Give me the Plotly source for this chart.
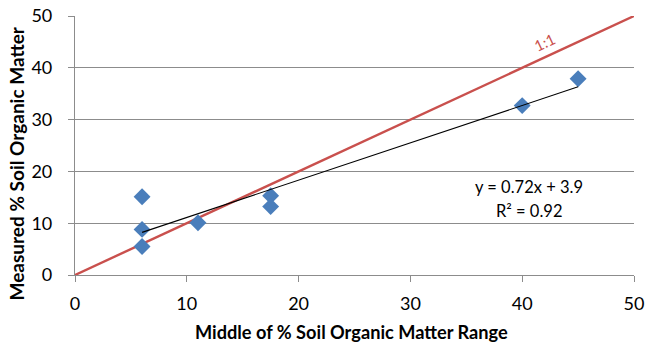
import numpy as np
import plotly.graph_objects as go

x_mid = [6, 6, 6, 11, 17.5, 17.5, 40, 45]
y_meas = [15.1, 8.8, 5.5, 10.1, 15.3, 13.2, 32.7, 37.9]
one_to_one = [0, 50]
x_ticks = [0, 10, 20, 30, 40, 50]
y_ticks = [0, 10, 20, 30, 40, 50]

slope, intercept = np.polyfit(x_mid, y_meas, 1)
trend_x = [min(x_mid), max(x_mid)]
trend_y = [slope * v + intercept for v in trend_x]
r2 = np.corrcoef(x_mid, y_meas)[0, 1] ** 2

font = "Lato, Open Sans, sans-serif"
grid = "#8c8c8c"
red = "#C9504D"

fig = go.Figure()
fig.add_trace(go.Scatter(x=one_to_one, y=one_to_one, mode="lines",
                         line=dict(color=red, width=2.4), hoverinfo="skip"))
fig.add_trace(go.Scatter(x=x_mid, y=y_meas, mode="markers",
                         marker=dict(symbol="diamond", size=13, color="#4A7EBB")))
fig.add_trace(go.Scatter(x=trend_x, y=trend_y, mode="lines",
                         line=dict(color="black", width=1.1)))

fig.add_annotation(x=42.0, y=45.0, text="1:1", showarrow=False, textangle=-25,
                   xanchor="center", yanchor="middle",
                   font=dict(family=font, size=15, color=red))
fig.add_annotation(x=40.6, y=17.05, text=f"y = {slope:.2f}x + {intercept:.1f}",
                   showarrow=False, xanchor="center", yanchor="middle",
                   font=dict(family=font, size=16.5, color="black"))
fig.add_annotation(x=40.6, y=12.4, text=f"R² = {r2:.2f}",
                   showarrow=False, xanchor="center", yanchor="middle",
                   font=dict(family=font, size=16.5, color="black"))

# axis titles
fig.add_annotation(xref="paper", yref="paper", x=0.4946, y=-0.219,
                   xanchor="center", yanchor="middle",
                   text="<b>Middle of % Soil Organic Matter Range</b>", showarrow=False,
                   font=dict(family=font, size=18.2, color="black"))
fig.add_annotation(xref="paper", yref="paper", x=-0.1038, y=0.4305, textangle=-90,
                   xanchor="center", yanchor="middle",
                   text="<b>Measured % Soil Organic Matter</b>", showarrow=False,
                   font=dict(family=font, size=19, color="black"))

fig.update_layout(
    width=646, height=347,
    margin=dict(l=75, r=12, t=16, b=72),
    plot_bgcolor="white", paper_bgcolor="white",
    showlegend=False,
    font=dict(family=font, size=18, color="black"),
)
fig.update_xaxes(range=[0, 50], tickvals=x_ticks, showgrid=False, zeroline=False,
                 showline=True, linecolor=grid, linewidth=1.2, automargin=False,
                 ticks="outside", ticklen=6, tickcolor=grid, tickwidth=1.2,
                 tickfont=dict(size=18), ticklabelstandoff=6)
fig.update_yaxes(range=[0, 50], tickvals=y_ticks, showgrid=True, gridcolor=grid,
                 gridwidth=1.2, zeroline=False, automargin=False,
                 showline=True, linecolor=grid, linewidth=1.2,
                 ticks="outside", ticklen=6, tickcolor=grid, tickwidth=1.2,
                 tickfont=dict(size=18), ticklabelstandoff=12)

fig.write_html("out.html")
